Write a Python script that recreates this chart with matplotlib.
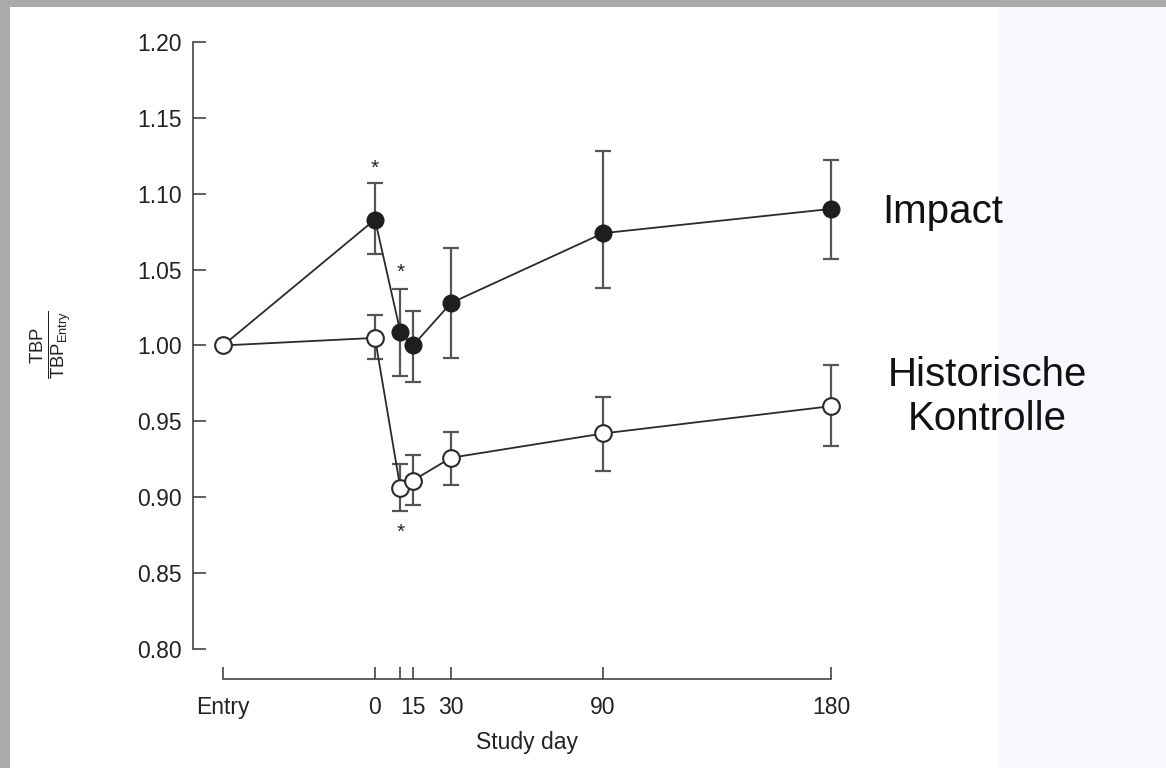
import matplotlib
matplotlib.use("Agg")
import matplotlib.pyplot as plt
from matplotlib.patches import Rectangle
import numpy as np

plt.rcParams['font.family'] = ['Liberation Sans', 'DejaVu Sans']
plt.rcParams['mathtext.fontset'] = 'custom'
plt.rcParams['mathtext.rm'] = 'Liberation Sans'
plt.rcParams['mathtext.it'] = 'Liberation Sans:italic'

# x positions (study day, "Entry" drawn 60 days before day 0)
days = [-60, 0, 10, 15, 30, 90, 180]
tick_days = [-60, 0, 10, 15, 30, 90, 180]
tick_labels = ['Entry', '0', '', '15', '30', '90', '180']
y_ticks = [0.80, 0.85, 0.90, 0.95, 1.00, 1.05, 1.10, 1.15, 1.20]

# Impact group (filled circles)
impact_mean = [1.000, 1.083, 1.009, 1.000, 1.028, 1.074, 1.090]
impact_hi = [1.000, 1.107, 1.037, 1.023, 1.064, 1.128, 1.122]
impact_lo = [1.000, 1.060, 0.980, 0.976, 0.992, 1.038, 1.057]

# historical control (open circles)
control_mean = [1.000, 1.005, 0.906, 0.911, 0.926, 0.942, 0.960]
control_hi = [1.000, 1.020, 0.922, 0.928, 0.943, 0.966, 0.987]
control_lo = [1.000, 0.991, 0.891, 0.895, 0.908, 0.917, 0.934]

# significance marks
star_days = [0, 10, 10]
star_vals = [1.117, 1.048, 0.877]

W, H = 1166, 768
fig = plt.figure(figsize=(W / 100, H / 100), dpi=100)
fig.patch.set_facecolor('white')

def fx(px):
    return px / W

def fy(py):
    return 1 - py / H

# frame + pale side panel
fig.patches.append(Rectangle((fx(999), 0), 1 - fx(999), fy(7), transform=fig.transFigure,
                             facecolor='#f9f8fe', edgecolor='none', zorder=0))
fig.patches.append(Rectangle((0, fy(7)), 1, 7 / H, transform=fig.transFigure,
                             facecolor='#ababab', edgecolor='none', zorder=0))
fig.patches.append(Rectangle((0, 0), 10 / W, 1, transform=fig.transFigure,
                             facecolor='#ababab', edgecolor='none', zorder=0))

ax = fig.add_axes([fx(193), 89 / H, 638 / W, 637 / H])
ax.patch.set_alpha(0)
ax.set_xlim(-71.84, 180)
ax.set_ylim(0.7802, 1.20)

for s in ['top', 'right']:
    ax.spines[s].set_visible(False)
ax.spines['left'].set_bounds(0.80, 1.20)
ax.spines['bottom'].set_bounds(-60, 180)
for s in ['left', 'bottom']:
    ax.spines[s].set_color('#444444')
    ax.spines[s].set_linewidth(1.2)

ax.set_xticks(tick_days)
ax.set_xticklabels(tick_labels)
ax.set_yticks(y_ticks)
ax.set_yticklabels([f"{v:.2f}" for v in y_ticks])
ax.tick_params(direction='in', length=9, width=1.2, color='#444444',
               labelsize=16.5, labelcolor='#222222')
ax.tick_params(axis='x', pad=12)
ax.tick_params(axis='y', pad=8)

ax.set_xlabel('Study day', fontsize=16.5, color='#222222', labelpad=9)
ax.xaxis.label.set_x((527 - 193) / 638)

# error bars (not for Entry)
d = np.array(days[1:])
im = np.array(impact_mean[1:])
cm = np.array(control_mean[1:])
for mean, lo, hi in [(im, impact_lo, impact_hi), (cm, control_lo, control_hi)]:
    eb = ax.errorbar(d, mean, yerr=[mean - np.array(lo[1:]), np.array(hi[1:]) - mean],
                     fmt='none', ecolor='#555555', elinewidth=1.6, capsize=5.5,
                     capthick=1.6, zorder=2)
    for art in eb.lines[1] + eb.lines[2]:
        art.set_clip_on(False)

ax.plot(days, impact_mean, color='#2a2a2a', lw=1.3, zorder=3, clip_on=False)
ax.plot(days[1:], impact_mean[1:], 'o', ms=12, mfc='#1e1e1e', mec='#1e1e1e',
        zorder=4, clip_on=False)
ax.plot(days, control_mean, color='#2a2a2a', lw=1.3, marker='o', ms=12,
        mfc='white', mec='#2a2a2a', mew=1.5, zorder=5, clip_on=False)

for xd, yv in zip(star_days, star_vals):
    ax.text(xd, yv, '*', ha='center', va='center', fontsize=15, color='#222222')

# y label as fraction
fig.text(fx(52), fy(345), r'$\frac{\mathrm{TBP}}{\mathrm{TBP}_{\mathrm{Entry}}}$',
         rotation=90, ha='center', va='center', fontsize=19, color='#222222')

fig.text(fx(882), fy(212), 'Impact', ha='left', va='center', fontsize=29, color='#111111')
fig.text(fx(987), fy(397), 'Historische\nKontrolle', ha='center', va='center',
         fontsize=29, color='#111111', linespacing=1.22)

fig.savefig('out.png', dpi=100)
